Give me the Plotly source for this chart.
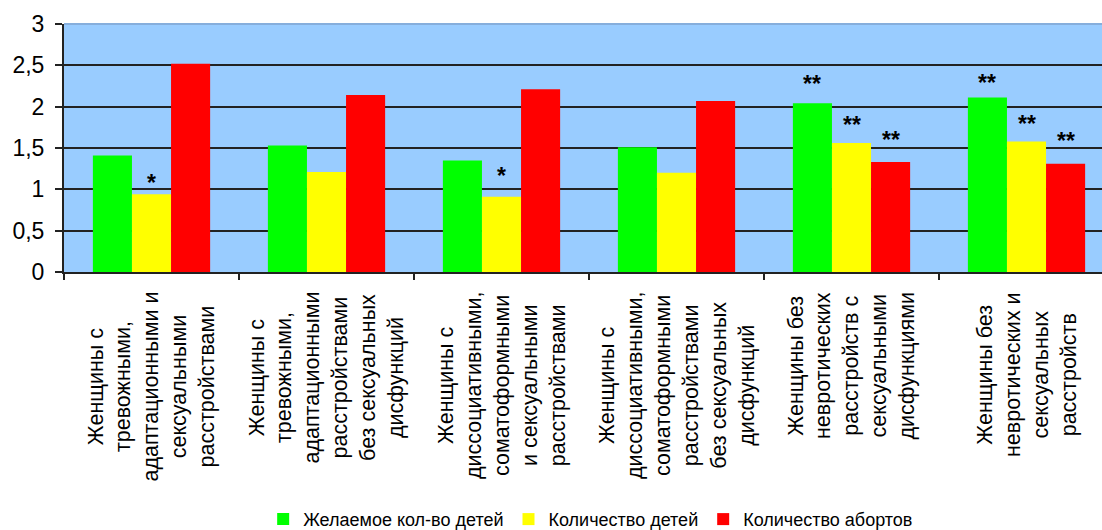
import plotly.graph_objects as go

categories = [
    "Женщины с<br>тревожными,<br>адаптационными и<br>сексуальными<br>расстройствами",
    "Женщины с<br>тревожными,<br>адаптационными<br>расстройствами<br>без сексуальных<br>дисфункций",
    "Женщины с<br>диссоциативными,<br>соматоформными<br>и сексуальными<br>расстройствами",
    "Женщины с<br>диссоциативными,<br>соматоформными<br>расстройствами<br>без сексуальных<br>дисфункций",
    "Женщины без<br>невротических<br>расстройств с<br>сексуальными<br>дисфункциями",
    "Женщины без<br>невротических и<br>сексуальных<br>расстройств",
]
series_names = ["Желаемое кол-во детей", "Количество детей", "Количество абортов"]
desired = [1.41, 1.53, 1.35, 1.51, 2.04, 2.11]
children = [0.94, 1.21, 0.91, 1.20, 1.56, 1.58]
abortions = [2.52, 2.14, 2.21, 2.07, 1.33, 1.31]
# significance marks: (category index, series index, mark)
marks = [(0, 1, "*"), (2, 1, "*"),
         (4, 0, "**"), (4, 1, "**"), (4, 2, "**"),
         (5, 0, "**"), (5, 1, "**"), (5, 2, "**")]
mark_shift = [-4, 6, 4, 3, 7, 0, 2, 8]

colors = ["#00FF00", "#FFFF00", "#FF0000"]
FONT = "Liberation Sans, Arial, sans-serif"

fig = go.Figure()
for name, vals, col in zip(series_names, [desired, children, abortions], colors):
    fig.add_trace(go.Bar(x=categories, y=vals, name=name, marker=dict(color=col, line=dict(width=0))))

values = [desired, children, abortions]
bargap = 0.33
bw = (1 - bargap) / 3
for (ci, si, m), sh in zip(marks, mark_shift):
    fig.add_annotation(x=ci + (si - 1) * bw, y=values[si][ci], text="<b>" + m + "</b>",
                       showarrow=False, yanchor="bottom", yshift=sh,
                       font=dict(size=23, color="black", family=FONT))

for c in categories:
    fig.add_annotation(x=c, y=0, yref="paper", text=c, textangle=-90, align="center",
                       showarrow=False, yanchor="top", xanchor="center", yshift=-18,
                       font=dict(size=21.5, color="black", family=FONT))

# light frame line along the top of the plot area
fig.add_shape(type="line", xref="paper", yref="paper", x0=0, x1=1, y0=1, y1=1,
              line=dict(color="#86AEDC", width=2), layer="above")

n_visible = (1102 - 64) / 175.0
fig.update_layout(
    width=1102, height=530,
    margin=dict(l=64, r=0, t=24, b=258),
    paper_bgcolor="white", plot_bgcolor="#99CCFF",
    barmode="group", bargap=bargap, bargroupgap=0,
    separators=", ",
    font=dict(family=FONT, color="black"),
    showlegend=True,
    legend=dict(orientation="h", xref="container", yref="container",
                x=0.536, y=0.02, xanchor="center", yanchor="middle",
                font=dict(size=18, family=FONT), itemwidth=30, tracegroupgap=0),
)
fig.update_xaxes(type="category", range=[-0.5, -0.5 + n_visible], showticklabels=False,
                 ticks="outside", tickson="boundaries", ticklen=6, tickcolor="#222222",
                 tickwidth=1.5,
                 showline=True, linecolor="#222222", linewidth=2, showgrid=False)
fig.update_yaxes(range=[0, 3], dtick=0.5, tick0=0, ticks="outside", ticklen=7,
                 tickcolor="#222222", tickwidth=1.5, showline=True, linecolor="#222222", linewidth=2,
                 showgrid=True, gridcolor="#222222", gridwidth=2, zeroline=False,
                 ticklabelstandoff=6,
                 tickfont=dict(size=23, family=FONT, color="black"))

fig.write_html("out.html")
